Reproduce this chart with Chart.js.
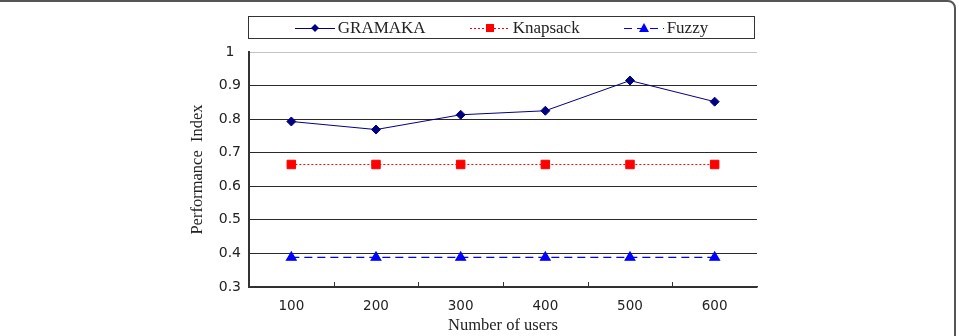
<!DOCTYPE html>
<html>
<head>
<meta charset="utf-8">
<script src="https://cdn.jsdelivr.net/npm/chart.js@4/dist/chart.umd.min.js"></script>
<style>
  html, body { margin: 0; padding: 0; background: #fff; }
  #wrap { position: relative; width: 959px; height: 336px; overflow: hidden; }
  #frame {
    position: absolute; left: -20px; top: 0; width: 976px; height: 400px;
    border: 2px solid #555; border-radius: 8px; box-sizing: border-box;
  }
  #chart { position: absolute; left: 0; top: 0; }
  #legend {
    position: absolute; left: 248px; top: 16px; width: 507px; height: 23px;
    border: 1px solid #333; box-sizing: border-box;
    display: flex; align-items: center; justify-content: center;
    font-family: "Liberation Serif", serif; font-size: 17px; color: #222;
  }
  .legend-item { display: flex; align-items: center; margin: 0 22px; }
  .legend-item svg { margin-right: 3px; }
</style>
</head>
<body>
<div id="wrap">
  <div id="frame"></div>
  <canvas id="chart" width="959" height="336"></canvas>
  <div id="legend"></div>
</div>
<script>
// ── Data ────────────────────────────────────────────────────────────────────
const users    = ['100', '200', '300', '400', '500', '600'];
const gramaka  = [0.793, 0.769, 0.813, 0.825, 0.915, 0.852];
const knapsack = [0.665, 0.665, 0.665, 0.665, 0.665, 0.665];
const fuzzy    = [0.388, 0.388, 0.388, 0.388, 0.388, 0.388];

const colors = {
  navy:  '#000080',
  red:   '#ff0000',
  blue:  '#0000ff',
  grid:  '#2a2a2a',
  light: '#c4c4c4',
  text:  '#222'
};

// inward tick marks on the x axis, between categories
const innerTicks = {
  id: 'innerTicks',
  afterDraw(chart) {
    const x = chart.scales.x;
    const ctx = chart.ctx;
    const bottom = chart.chartArea.bottom;
    ctx.save();
    ctx.strokeStyle = '#333';
    ctx.lineWidth = 1;
    for (let i = 1; i < users.length; i++) {
      const px = Math.round((x.getPixelForValue(i - 1) + x.getPixelForValue(i)) / 2) + 0.5;
      ctx.beginPath();
      ctx.moveTo(px, bottom);
      ctx.lineTo(px, bottom - 5);
      ctx.stroke();
    }
    ctx.restore();
  }
};

const chart = new Chart(document.getElementById('chart'), {
  type: 'line',
  data: {
    labels: users,
    datasets: [
      {
        label: 'GRAMAKA', data: gramaka,
        borderColor: colors.navy, backgroundColor: colors.navy,
        borderWidth: 1, pointStyle: 'rectRot', pointRadius: 4.5,
        tension: 0
      },
      {
        label: 'Knapsack', data: knapsack,
        borderColor: colors.red, backgroundColor: colors.red,
        borderWidth: 1, borderDash: [2, 2], pointStyle: 'rect', pointRadius: 6,
        tension: 0
      },
      {
        label: 'Fuzzy', data: fuzzy,
        borderColor: colors.blue, backgroundColor: colors.blue,
        borderWidth: 1.3, borderDash: [8, 5], pointStyle: 'triangle', pointRadius: 5.5,
        tension: 0
      }
    ]
  },
  options: {
    responsive: false,
    animation: false,
    layout: { padding: { left: 180, right: 202, top: 52, bottom: 0 } },
    plugins: {
      legend: { display: false },
      tooltip: { enabled: false }
    },
    scales: {
      x: {
        offset: true,
        afterFit: s => { s.height = 49; },
        grid: {
          offset: true,
          drawTicks: false,
          color: c => c.index === users.length ? '#8a8a8a' : 'rgba(0,0,0,0)'
        },
        border: { color: '#333', width: 1.5 },
        ticks: {
          padding: 11, color: colors.text,
          font: { family: "'DejaVu Sans', sans-serif", size: 13.5 }
        },
        title: {
          display: true, text: 'Number of users', color: colors.text,
          padding: { top: 0, bottom: 0 },
          font: { family: "'Liberation Serif', serif", size: 16.5 }
        }
      },
      y: {
        min: 0.3, max: 1,
        afterFit: s => { s.width = 69; },
        grid: {
          drawTicks: false,
          color: c => c.tick.value > 0.99 ? colors.light : colors.grid
        },
        border: { color: '#333', width: 2 },
        ticks: {
          stepSize: 0.1, padding: 8, crossAlign: 'center', color: colors.text,
          font: { family: "'DejaVu Sans', sans-serif", size: 14 },
          callback: v => String(Number(v.toFixed(1)))
        },
        title: {
          display: true, text: 'Performance  Index', color: colors.text,
          padding: { top: 8, bottom: 0 },
          font: { family: "'Liberation Serif', serif", size: 16.5 }
        }
      }
    }
  },
  plugins: [innerTicks]
});

// ── HTML legend (line + marker samples) ─────────────────────────────────────
function markerSvg(ds) {
  const dash = ds.borderDash ? ds.borderDash.join(',') : 'none';
  let mark = '';
  if (ds.pointStyle === 'rectRot') mark = '<polygon points="20,2 24,6 20,10 16,6" fill="' + ds.borderColor + '"/>';
  if (ds.pointStyle === 'rect') mark = '<rect x="16" y="2" width="8" height="8" fill="' + ds.borderColor + '"/>';
  if (ds.pointStyle === 'triangle') mark = '<polygon points="20,1 25,10 15,10" fill="' + ds.borderColor + '"/>';
  return '<svg width="40" height="12"><line x1="0" y1="6.5" x2="40" y2="6.5" stroke="' + ds.borderColor +
    '" stroke-width="1" stroke-dasharray="' + dash + '"/>' + mark + '</svg>';
}

document.getElementById('legend').innerHTML = chart.data.datasets.map(ds =>
  `<div class="legend-item">${markerSvg(ds)}<span>${ds.label}</span></div>`
).join('');
</script>
</body>
</html>
